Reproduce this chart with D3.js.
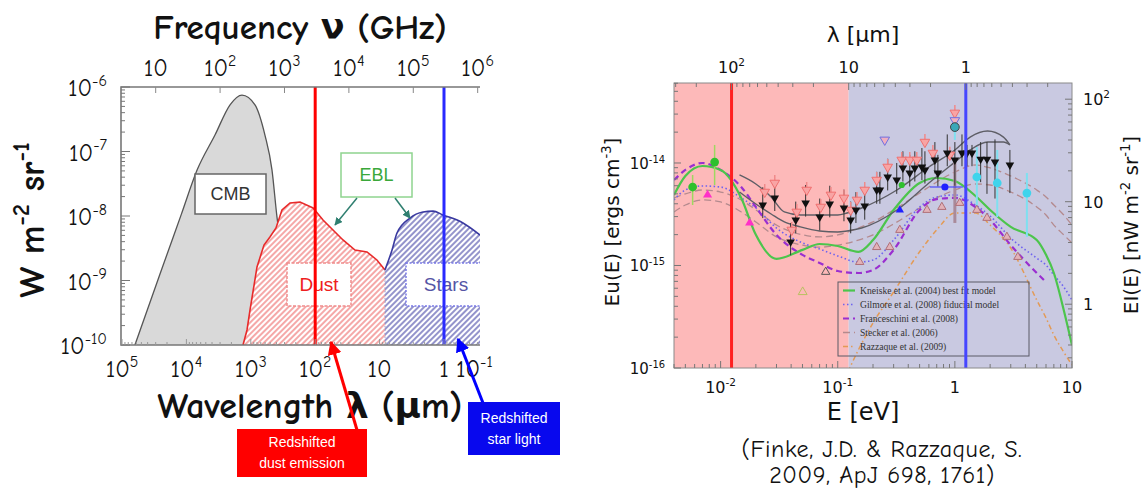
<!DOCTYPE html>
<html>
<head>
<meta charset="utf-8">
<script src="https://cdn.jsdelivr.net/npm/d3@7"></script>
<style>
  body { margin: 0; background: #fff; }
  svg { display: block; }
</style>
</head>
<body>
<svg id="chart" width="1148" height="490"></svg>
<script>
// ---------- left panel: CMB / EBL spectrum, lambda in um, nu I_nu in W m^-2 sr^-1
const cmbLambda = [6.3e4, 2.57e4, 1.2e4, 6.8e3, 3.6e3, 2.1e3, 1.37e3, 861, 603, 469, 392, 316, 246];
const cmbFlux   = [1e-10, 1.26e-9, 1.06e-8, 5.2e-8, 1.8e-7, 5.3e-7, 7.5e-7, 5.3e-7, 1.8e-7, 5.2e-8, 9.6e-9, 2.1e-9, 1e-10];

const dustLambda = [1321, 1145, 1028, 801, 624, 504, 406, 328, 246, 172, 108, 75.6, 37, 24.1, 15.7, 11.0, 8.24];
const dustFlux   = [1e-10, 1.71e-10, 3.49e-10, 1.62e-9, 3.55e-9, 4.72e-9, 6.52e-9, 1.24e-8, 1.59e-8, 1.64e-8, 1.33e-8, 8.67e-9, 4.25e-9, 2.97e-9, 2.77e-9, 2.08e-9, 1.46e-9];

const starLambda = [8.24, 6.41, 5.37, 3.37, 2.12, 1.48, 1.04, 0.507, 0.276];
const starFlux   = [1.46e-9, 2.97e-9, 5.44e-9, 9.3e-9, 1.15e-8, 1.19e-8, 1.04e-8, 7.79e-9, 5.07e-9];

const dustPeakLambda = 100;   // redshifted dust emission
const starPeakLambda = 1;     // redshifted star light

const lambdaTicksL = [1e5, 1e4, 1e3, 1e2, 10, 1, 0.1];
const freqTicksL   = [10, 1e2, 1e3, 1e4, 1e5, 1e6];
const fluxTicksL   = [1e-6, 1e-7, 1e-8, 1e-9, 1e-10];

// ---------- right panel: EBL energy density, E in eV, u in erg cm^-3
const energyGrid = [0.004, 0.005, 0.007, 0.01, 0.015, 0.02, 0.03, 0.05, 0.07, 0.1, 0.15, 0.2, 0.3, 0.5, 0.7, 1, 1.5, 2, 3, 5, 6, 7, 8.5, 10];
const kneiske      = [4.88e-15, 7.47e-15, 9.35e-15, 8.55e-15, 4.56e-15, 1.99e-15, 1.16e-15, 1.42e-15, 1.62e-15, 1.55e-15, 1.36e-15, 1.77e-15, 3.48e-15, 6.38e-15, 7.14e-15, 6.67e-15, 4.76e-15, 3.48e-15, 2.38e-15, 1.77e-15, 1.27e-15, 8.45e-16, 3.68e-16, 1.67e-16];
const gilmore      = [4.36e-15, 5.45e-15, 5.97e-15, 5.83e-15, 4.56e-15, 3.64e-15, 2.32e-15, 1.66e-15, 1.45e-15, 1.24e-15, 1.08e-15, 1.13e-15, 1.77e-15, 3.72e-15, 4.66e-15, 4.88e-15, 3.89e-15, 3.04e-15, 1.85e-15, 1.18e-15, 1.01e-15, 8.07e-16, 6.17e-16, 4.61e-16];
const franceschini = [6.82e-15, 8.55e-15, 1.0e-14, 8.55e-15, 5.83e-15, 3.72e-15, 1.99e-15, 1.27e-15, 1.06e-15, 8.83e-16, 8.45e-16, 9.04e-16, 1.42e-15, 3.48e-15, 4.45e-15, 4.56e-15, 3.72e-15, 2.78e-15, 1.58e-15, 8.45e-16, 6.90e-16, null, null, null];
const steckerHigh  = [4.56e-15, 4.99e-15, 5.45e-15, 5.21e-15, 4.36e-15, 3.48e-15, 2.48e-15, 1.99e-15, 1.90e-15, 1.99e-15, 2.32e-15, 2.66e-15, 3.48e-15, 5.09e-15, 6.53e-15, 8.17e-15, 9.56e-15, 8.94e-15, 7.47e-15, 5.45e-15, 4.66e-15, 3.89e-15, 3.11e-15, 2.48e-15];
const steckerLow   = [3.33e-15, 3.89e-15, 4.36e-15, 4.17e-15, 3.33e-15, 2.66e-15, 1.90e-15, 1.58e-15, 1.51e-15, 1.58e-15, 1.77e-15, 1.99e-15, 2.54e-15, 3.64e-15, 4.56e-15, 5.45e-15, 6.24e-15, 6.10e-15, 5.21e-15, 3.72e-15, 3.11e-15, 2.48e-15, 1.99e-15, 1.66e-15];
const razzaque     = [null, null, null, null, null, null, null, null, null, 5.46e-17, 1.50e-16, 2.75e-16, 5.51e-16, 1.36e-15, 2.22e-15, 3.25e-15, 3.25e-15, 2.48e-15, 1.48e-15, 4.61e-16, 3.08e-16, 2.10e-16, 1.43e-16, 1.07e-16];

// grey solid bounds
const boundE    = [0.0145, 0.02, 0.027, 0.035, 0.048, 0.07, 0.1, 0.12, 0.16, 0.32, 0.6, 1.0, 1.35, 1.9, 2.6, 2.95];
const boundHigh = [7.64e-15, 6.24e-15, 4.66e-15, 3.33e-15, 3.11e-15, 3.11e-15, 3.11e-15, 3.25e-15, 3.64e-15, 5.45e-15, 9.14e-15, 1.34e-14, 1.79e-14, 2.05e-14, 1.79e-14, 1.50e-14];
const boundLow  = [5.21e-15, 3.98e-15, 3.18e-15, 2.66e-15, 2.38e-15, 2.17e-15, 2.12e-15, 2.17e-15, 2.32e-15, 3.48e-15, 6.38e-15, 1.02e-14, 1.34e-14, 1.60e-14, 1.60e-14, 1.50e-14];

// measurements
const blackE  = [0.0229, 0.0290, 0.0396, 0.0438, 0.0532, 0.0702, 0.0855, 0.113, 0.129, 0.143, 0.170, 0.215, 0.229, 0.267, 0.319, 0.360, 0.412, 0.455, 0.523, 0.555, 0.675, 0.716, 0.861, 1.0, 1.15, 1.27, 1.40, 1.66, 1.88, 2.20, 2.95];
const blackU  = [3.89e-15, 4.56e-15, 1.70e-15, 2.78e-15, 4.07e-15, 2.97e-15, 3.98e-15, 3.64e-15, 2.78e-15, 3.48e-15, 3.80e-15, 5.45e-15, 5.45e-15, 7.30e-15, 6.82e-15, 8.94e-15, 7.99e-15, 8.94e-15, 9.14e-15, 8.55e-15, 1.07e-14, 7.99e-15, 1.25e-14, 1.07e-14, 1.25e-14, 1.25e-14, 1.25e-14, 1.09e-14, 1.09e-14, 1.02e-14, 9.56e-15];
const blackHi = [5.8e-15, 6.8e-15, 2.6e-15, 4.2e-15, 6.1e-15, 4.5e-15, 6.0e-15, 5.5e-15, 4.2e-15, 5.2e-15, 5.7e-15, 8.2e-15, 8.2e-15, 1.1e-14, 1.0e-14, 1.3e-14, 1.2e-14, 1.3e-14, 1.4e-14, 1.3e-14, 1.6e-14, 1.2e-14, 1.9e-14, 1.6e-14, 1.9e-14, 1.5e-14, 1.5e-14, 1.6e-14, 1.6e-14, 1.7e-14, 1.34e-14];
const blackLo = [2.9e-15, 3.4e-15, 1.26e-15, 2.06e-15, 3.0e-15, 2.2e-15, 2.95e-15, 2.7e-15, 2.06e-15, 2.6e-15, 2.8e-15, 4.0e-15, 4.0e-15, 5.4e-15, 5.0e-15, 6.6e-15, 5.9e-15, 6.6e-15, 6.8e-15, 6.3e-15, 7.9e-15, 5.9e-15, 9.3e-15, 6.0e-15, 9.3e-15, 9.3e-15, 9.3e-15, 6.5e-15, 5.0e-15, 4.5e-15, 5.09e-15];

const pinkE = [0.0238, 0.0290, 0.0405, 0.0447, 0.0543, 0.0716, 0.0875, 0.113, 0.129, 0.146, 0.170, 0.215, 0.267, 0.352, 0.412, 0.473, 0.555, 0.649, 0.906, 1.0];
const pinkU = [5.21e-15, 6.38e-15, 2.22e-15, 3.33e-15, 5.45e-15, 3.72e-15, 4.88e-15, 4.56e-15, 3.48e-15, 4.36e-15, 5.45e-15, 6.82e-15, 9.14e-15, 1.07e-14, 1.07e-14, 1.07e-14, 1.60e-14, 1.25e-14, 1.20e-14, 3.08e-14];
const lavenderE = [0.252, 1.0];
const lavenderU = [1.68e-14, 2.6e-14];

const cyanE  = [1.54, 2.30, 4.12, 1.0];
const cyanU  = [7.30e-15, 6.38e-15, 5.09e-15, 2.24e-14];
const cyanLo = [3.72e-15, 2.97e-15, 1.90e-15, 1.68e-14];
const cyanHi = [1.43e-14, 1.34e-14, 7.99e-15, 2.9e-14];

const greenE  = [0.00577, 0.00889, 0.352];
const greenU  = [5.83e-15, 1.02e-14, 6.1e-15];
const greenLo = [3.89e-15, 6.10e-15, null];
const greenHi = [7.64e-15, 1.5e-14, null];

const magentaE = [0.00774, 0.0177];
const magentaU = [4.88e-15, 2.60e-15];

const blueDotE = [0.822], blueDotU = [5.83e-15], blueDotEmin = [0.611], blueDotEmax = [1.17];
const blueTriE = [0.339], blueTriU = [3.48e-15];

const rosyE = [0.154, 0.215, 0.278, 0.339, 0.578, 0.774, 1.10, 1.54, 1.88, 2.78, 3.45];
const rosyU = [1.08e-15, 1.51e-15, 1.51e-15, 2.22e-15, 3.48e-15, 3.72e-15, 4.07e-15, 3.48e-15, 2.91e-15, 1.90e-15, 1.21e-15];
const greyTriE = [0.0789], greyTriU = [8.65e-16];
const oliveTriE = [0.0502], oliveTriU = [5.51e-16];
const mauveBarE = [1.0], mauveBarLo = [2.60e-15], mauveBarHi = [1.07e-14];

const legendLabels = [
  'Kneiske et al. (2004) best fit model',
  'Gilmore et al. (2008) fiducial model',
  'Franceschini et al. (2008)',
  'Stecker et al. (2006)',
  'Razzaque et al. (2009)'
];

const energyTicks = [0.01, 0.1, 1, 10];
const lambdaTicksR = [100, 10, 1];
const uTicks = [1e-14, 1e-15, 1e-16];
const nwTicks = [100, 10, 1];

const C_GHZ_UM = 2.998e5;   // nu[GHz] = C / lambda[um]
const HC = 1.2398;          // E[eV] * lambda[um]
const U_TO_NW = 2.386e15;   // c/4pi : erg cm^-3 -> nW m^-2 sr^-1

const COMIC = '"Comic Sans MS", "Comic Neue", "DejaVu Sans", sans-serif';
const SANS = '"Liberation Sans", Arial, sans-serif';

const svg = d3.select('#chart');
const defs = svg.append('defs');

function hatch(id, color) {
  const p = defs.append('pattern').attr('id', id)
    .attr('patternUnits', 'userSpaceOnUse').attr('width', 4).attr('height', 4)
    .attr('patternTransform', 'rotate(45)');
  p.append('rect').attr('width', 4).attr('height', 4).attr('fill', '#fff');
  p.append('line').attr('x1', 1).attr('y1', 0).attr('x2', 1).attr('y2', 4)
    .attr('stroke', color).attr('stroke-width', 1.3);
}
hatch('hatchRed', '#f07a7a');
hatch('hatchBlue', '#5a5ab0');

function arrowMarker(id, color, size) {
  defs.append('marker').attr('id', id).attr('viewBox', '0 0 10 10')
    .attr('refX', 9).attr('refY', 5).attr('markerWidth', size).attr('markerHeight', size)
    .attr('markerUnits', 'userSpaceOnUse').attr('orient', 'auto')
    .append('path').attr('d', 'M0,0 L10,5 L0,10 z').attr('fill', color);
}
arrowMarker('arRed', '#ff0000', 14);
arrowMarker('arBlue', '#0000ff', 14);
arrowMarker('arTeal', '#2f7f70', 8);

// 10^n label
function powText(g, v, x, y, size, anchor, family, weight) {
  const e = Math.round(Math.log10(v));
  const t = g.append('text').attr('x', x).attr('y', y)
    .attr('text-anchor', anchor || 'middle').attr('font-size', size)
    .attr('font-family', family).attr('font-weight', weight || null).attr('fill', '#111');
  if (e === 0) t.text('1');
  else if (e === 1) t.text('10');
  else {
    t.append('tspan').text('10');
    t.append('tspan').attr('dy', -size * 0.42).attr('font-size', size * 0.66).text(e);
  }
  return t;
}

// text with superscript parts: [[str, isSup], ...]
function richText(g, parts, size, attrs) {
  const t = g.append('text').attr('font-size', size);
  Object.entries(attrs).forEach(([k, v]) => t.attr(k, v));
  let up = false;
  const k = size * 0.42;
  parts.forEach(([s, sup]) => {
    const ts = t.append('tspan').text(s);
    if (sup && !up) { ts.attr('dy', -k).attr('font-size', size * 0.66); up = true; }
    else if (sup) ts.attr('font-size', size * 0.66);
    else if (!sup && up) { ts.attr('dy', k); up = false; }
  });
  return t;
}

// ================= LEFT PANEL =================
const L = { left: 121, right: 480, top: 87, bottom: 345 };
const xL = d3.scaleLog().domain([1e5, 0.276]).range([122, L.right]);
const yL = d3.scaleLog().domain([1e-10, 1e-6]).range([L.bottom, L.top]);
const xF = d3.scaleLog().domain([C_GHZ_UM / 1e5, C_GHZ_UM / 0.276]).range([122, L.right]);

const left = svg.append('g');
defs.append('clipPath').attr('id', 'clipL').append('rect')
  .attr('x', L.left).attr('y', L.top).attr('width', L.right - L.left).attr('height', L.bottom - L.top);
const lp = left.append('g').attr('clip-path', 'url(#clipL)');

const cmb = cmbLambda.map((l, i) => [l, cmbFlux[i]]);
const dust = dustLambda.map((l, i) => [l, dustFlux[i]]);
const stars = starLambda.map((l, i) => [l, starFlux[i]]);

const areaL = d3.area().x(d => xL(d[0])).y0(L.bottom).y1(d => yL(d[1])).curve(d3.curveMonotoneX);
const lineL = d3.line().x(d => xL(d[0])).y(d => yL(d[1])).curve(d3.curveMonotoneX);

lp.append('path').datum(cmb).attr('d', areaL).attr('fill', '#d9d9d9');
lp.append('path').datum(cmb).attr('d', lineL).attr('fill', 'none').attr('stroke', '#555').attr('stroke-width', 1.3);

const areaLin = d3.area().x(d => xL(d[0])).y0(L.bottom).y1(d => yL(d[1]));
const lineLin = d3.line().x(d => xL(d[0])).y(d => yL(d[1]));
lp.append('path').datum(dust).attr('d', areaLin).attr('fill', 'url(#hatchRed)');
lp.append('path').datum(stars).attr('d', areaL).attr('fill', 'url(#hatchBlue)');
lp.append('path').datum(dust).attr('d', lineLin).attr('fill', 'none').attr('stroke', '#e82a2a').attr('stroke-width', 1.6);
lp.append('path').datum(stars).attr('d', lineL).attr('fill', 'none').attr('stroke', '#3a3aa0').attr('stroke-width', 1.6);
// dotted boundary between the two components
lp.append('line')
  .attr('x1', xL(starLambda[0])).attr('x2', xL(starLambda[0]))
  .attr('y1', yL(starFlux[0])).attr('y2', L.bottom)
  .attr('stroke', '#9a9ac8').attr('stroke-width', 1).attr('stroke-dasharray', '1.5,2');

// label boxes
function boxLabel(g, x, y, w, h, txt, stroke, color, dash, size) {
  g.append('rect').attr('x', x).attr('y', y).attr('width', w).attr('height', h)
    .attr('fill', '#fff').attr('stroke', stroke).attr('stroke-width', 1.5)
    .attr('stroke-dasharray', dash || null);
  g.append('text').attr('x', x + w / 2).attr('y', y + h / 2 + size * 0.36)
    .attr('text-anchor', 'middle').attr('font-size', size).attr('font-family', SANS)
    .attr('fill', color).text(txt);
}
boxLabel(left, 195, 174, 71, 40, 'CMB', '#666', '#333', null, 18);
boxLabel(left, 341, 153, 71, 44, 'EBL', '#8fd48f', '#3aa83a', null, 18);
boxLabel(lp, 287, 263, 64, 43, 'Dust', '#f08a8a', '#ee2020', '3,1.5', 19);
boxLabel(lp, 406, 263, 80, 43, 'Stars', '#7a7ae8', '#5555a5', '2,1.5', 19);

// EBL arrows
left.append('line').attr('x1', 357).attr('y1', 198).attr('x2', 335).attr('y2', 225)
  .attr('stroke', '#2f7f70').attr('stroke-width', 1.5).attr('marker-end', 'url(#arTeal)');
left.append('line').attr('x1', 395).attr('y1', 198).attr('x2', 410).attr('y2', 218)
  .attr('stroke', '#2f7f70').attr('stroke-width', 1.5).attr('marker-end', 'url(#arTeal)');

// redshifted peaks
left.append('line').attr('x1', xL(dustPeakLambda)).attr('x2', xL(dustPeakLambda))
  .attr('y1', L.top).attr('y2', L.bottom).attr('stroke', '#ff0000').attr('stroke-width', 3);
left.append('line').attr('x1', xL(starPeakLambda)).attr('x2', xL(starPeakLambda))
  .attr('y1', L.top).attr('y2', L.bottom).attr('stroke', '#2a2aff').attr('stroke-width', 3);

// axes frame
left.append('path')
  .attr('d', `M${L.right},${L.top} H${L.left} V${L.bottom} H${L.right}`)
  .attr('fill', 'none').attr('stroke', '#777').attr('stroke-width', 1.6);
yL.ticks().forEach(v => {
  const major = Math.abs(Math.log10(v) - Math.round(Math.log10(v))) < 1e-6;
  left.append('line').attr('x1', L.left).attr('x2', L.left + (major ? 9 : 4))
    .attr('y1', yL(v)).attr('y2', yL(v)).attr('stroke', '#777').attr('stroke-width', 1);
});
xL.ticks().filter(v => xL(v) <= L.right).forEach(v => {
  const major = Math.abs(Math.log10(v) - Math.round(Math.log10(v))) < 1e-6;
  left.append('line').attr('x1', xL(v)).attr('x2', xL(v))
    .attr('y1', L.bottom).attr('y2', L.bottom - (major ? 6 : 3)).attr('stroke', '#999').attr('stroke-width', 1);
});
freqTicksL.forEach(v => {
  left.append('line').attr('x1', xF(v)).attr('x2', xF(v))
    .attr('y1', L.top).attr('y2', L.top + 6).attr('stroke', '#888').attr('stroke-width', 1);
});

// tick labels
fluxTicksL.forEach(v => powText(left, v, 107, yL(v) + 9, 24, 'end', COMIC));
lambdaTicksL.forEach(v => {
  let x = xL(v), anchor = 'middle';
  if (x > L.right - 10) { x = xL(starPeakLambda) + 12; anchor = 'start'; }
  powText(left, v, x, 377, 24, anchor, COMIC);
});
freqTicksL.forEach(v => powText(left, v, xF(v), 76, 24, 'middle', COMIC));

// titles
left.append('text').attr('x', 300).attr('y', 39).attr('text-anchor', 'middle')
  .attr('font-size', 35).attr('font-weight', 'bold').attr('font-family', COMIC).attr('fill', '#111')
  .text('Frequency \u03bd (GHz)');
left.append('text').attr('x', 310).attr('y', 418).attr('text-anchor', 'middle')
  .attr('font-size', 36).attr('font-weight', 'bold').attr('font-family', COMIC).attr('fill', '#111')
  .text('Wavelength \u03bb (\u03bcm)');
richText(left, [['W m', false], ['-2', true], [' sr', false], ['-1', true]], 36, {
  'text-anchor': 'middle', 'font-family': COMIC, 'font-weight': 'bold', fill: '#111',
  transform: 'translate(44,220) rotate(-90)'
});

// callout boxes
left.append('line').attr('x1', 357).attr('y1', 430).attr('x2', 331).attr('y2', 342)
  .attr('stroke', '#ff0000').attr('stroke-width', 3).attr('marker-end', 'url(#arRed)');
left.append('rect').attr('x', 237).attr('y', 429).attr('width', 130).attr('height', 48).attr('fill', '#ff0000');
left.append('text').attr('x', 302).attr('y', 447).attr('text-anchor', 'middle').attr('font-size', 14)
  .attr('font-family', SANS).attr('fill', '#fff').text('Redshifted');
left.append('text').attr('x', 302).attr('y', 468).attr('text-anchor', 'middle').attr('font-size', 14)
  .attr('font-family', SANS).attr('fill', '#fff').text('dust emission');

left.append('line').attr('x1', 483).attr('y1', 403).attr('x2', 458).attr('y2', 339)
  .attr('stroke', '#0000ff').attr('stroke-width', 3).attr('marker-end', 'url(#arBlue)');
left.append('rect').attr('x', 468).attr('y', 402).attr('width', 92).attr('height', 53).attr('fill', '#0808ee');
left.append('text').attr('x', 514).attr('y', 423).attr('text-anchor', 'middle').attr('font-size', 14)
  .attr('font-family', SANS).attr('fill', '#fff').text('Redshifted');
left.append('text').attr('x', 514).attr('y', 444).attr('text-anchor', 'middle').attr('font-size', 14)
  .attr('font-family', SANS).attr('fill', '#fff').text('star light');

// ================= RIGHT PANEL =================
const R = { left: 674, right: 1072, top: 83, bottom: 368 };
const uTop = 6.03e-14;
const xR = d3.scaleLog().domain([0.004, 10]).range([R.left, R.right]);
const yR = d3.scaleLog().domain([1e-16, uTop]).range([R.bottom, R.top]);
const xLam = d3.scaleLog().domain([HC / 0.004, HC / 10]).range([R.left, R.right]);
const yNW = d3.scaleLog().domain([1e-16 * U_TO_NW, uTop * U_TO_NW]).range([R.bottom, R.top]);

const right = svg.append('g');
defs.append('clipPath').attr('id', 'clipR').append('rect')
  .attr('x', R.left).attr('y', R.top).attr('width', R.right - R.left).attr('height', R.bottom - R.top);
const rp = right.append('g').attr('clip-path', 'url(#clipR)');

// dust / stars regions (split at lambda = 10 um)
rp.append('rect').attr('x', R.left).attr('y', R.top)
  .attr('width', xLam(10) - R.left).attr('height', R.bottom - R.top).attr('fill', '#fdb9b9');
rp.append('rect').attr('x', xLam(10)).attr('y', R.top)
  .attr('width', R.right - xLam(10)).attr('height', R.bottom - R.top).attr('fill', '#c9c9e1');

const lineR = d3.line().defined(d => d[1] != null)
  .x(d => xR(d[0])).y(d => yR(d[1])).curve(d3.curveMonotoneX);
const models = [
  { vals: steckerHigh, color: '#b48a8e', w: 1.3, dash: '7,4' },
  { vals: steckerLow, color: '#b48a8e', w: 1.3, dash: '7,4' },
  { vals: razzaque, color: '#e39a55', w: 1.5, dash: '5,3,1.5,3' },
  { vals: gilmore, color: '#6e62f0', w: 1.6, dash: '1.5,2.5' },
  { vals: franceschini, color: '#9a2fd0', w: 2.2, dash: '6,4' },
  { vals: kneiske, color: '#4cc54c', w: 2.2, dash: null }
];
models.forEach(m => {
  rp.append('path').datum(energyGrid.map((e, i) => [e, m.vals[i]])).attr('d', lineR)
    .attr('fill', 'none').attr('stroke', m.color).attr('stroke-width', m.w)
    .attr('stroke-dasharray', m.dash);
});
[boundHigh, boundLow].forEach(vals => {
  rp.append('path').datum(boundE.map((e, i) => [e, vals[i]])).attr('d', lineR)
    .attr('fill', 'none').attr('stroke', '#5e5e66').attr('stroke-width', 1.4);
});

// measurement markers
function vbar(g, e, lo, hi, color, w) {
  g.append('line').attr('x1', xR(e)).attr('x2', xR(e)).attr('y1', yR(lo)).attr('y2', yR(hi))
    .attr('stroke', color).attr('stroke-width', w);
}
function marker(g, e, u, type, size, fill, stroke, rot) {
  g.append('path').attr('d', d3.symbol().type(type).size(size)())
    .attr('transform', `translate(${xR(e)},${yR(u)})${rot ? ' rotate(180)' : ''}`)
    .attr('fill', fill).attr('stroke', stroke || 'none').attr('stroke-width', 1);
}
const mk = rp.append('g');
mauveBarE.forEach((e, i) => vbar(mk, e, mauveBarLo[i], mauveBarHi[i], '#a98a9a', 3));
cyanE.forEach((e, i) => vbar(mk, e, cyanLo[i], cyanHi[i], '#7fe0f0', 2));
greenE.forEach((e, i) => { if (greenLo[i] != null) vbar(mk, e, greenLo[i], greenHi[i], '#9ed860', 1.5); });
blackE.forEach((e, i) => vbar(mk, e, blackLo[i], blackHi[i], '#333', 1));
rosyE.forEach((e, i) => marker(mk, e, rosyU[i], d3.symbolTriangle, 30, '#e2b2b8', '#b07078'));
greyTriE.forEach((e, i) => marker(mk, e, greyTriU[i], d3.symbolTriangle, 30, 'none', '#555'));
oliveTriE.forEach((e, i) => marker(mk, e, oliveTriU[i], d3.symbolTriangle, 34, 'none', '#b9c060'));
pinkE.forEach((e, i) => {
  mk.append('line').attr('x1', xR(e)).attr('x2', xR(e)).attr('y1', yR(pinkU[i]) - 8).attr('y2', yR(pinkU[i]) + 2)
    .attr('stroke', '#f08a8a').attr('stroke-width', 1.5);
  marker(mk, e, pinkU[i], d3.symbolTriangle, 40, '#f8a4a4', '#f07070', true);
});
lavenderE.forEach((e, i) => marker(mk, e, lavenderU[i], d3.symbolTriangle, 40, '#f0b0c0', '#7070e0', true));
blackE.forEach((e, i) => marker(mk, e, blackU[i], d3.symbolTriangle, 32, '#111', null, true));
magentaE.forEach((e, i) => marker(mk, e, magentaU[i], d3.symbolTriangle, 36, '#ff30c8'));
blueTriE.forEach((e, i) => marker(mk, e, blueTriU[i], d3.symbolTriangle, 30, '#2020ff'));
blueDotE.forEach((e, i) => {
  mk.append('line').attr('x1', xR(blueDotEmin[i])).attr('x2', xR(blueDotEmax[i]))
    .attr('y1', yR(blueDotU[i])).attr('y2', yR(blueDotU[i])).attr('stroke', '#3030ff').attr('stroke-width', 1.2);
  marker(mk, e, blueDotU[i], d3.symbolCircle, 40, '#2020ff');
});
cyanE.forEach((e, i) => marker(mk, e, cyanU[i], d3.symbolCircle, 60, i === 3 ? '#3aa8b8' : '#40d4ec', i === 3 ? '#444' : null));
greenE.forEach((e, i) => marker(mk, e, greenU[i], d3.symbolCircle, i === 2 ? 30 : 60, '#2ec02e'));

// redshifted peaks
rp.append('line').attr('x1', xLam(100)).attr('x2', xLam(100)).attr('y1', R.top).attr('y2', R.bottom)
  .attr('stroke', '#ff2020').attr('stroke-width', 3);

// legend
const lg = right.append('g');
const LG = { x: 838, y: 282, w: 191, h: 74 };
lg.append('rect').attr('x', LG.x).attr('y', LG.y).attr('width', LG.w).attr('height', LG.h)
  .attr('fill', 'none').attr('stroke', '#5a5a66').attr('stroke-width', 1);
const legendStyles = [models[5], models[3], models[4], models[0], models[2]];
legendLabels.forEach((txt, i) => {
  const y = LG.y + 8.5 + i * 14;
  const s = legendStyles[i];
  lg.append('line').attr('x1', LG.x + 5).attr('x2', LG.x + 17).attr('y1', y).attr('y2', y)
    .attr('stroke', s.color).attr('stroke-width', s.w).attr('stroke-dasharray', s.dash);
  lg.append('text').attr('x', LG.x + 22).attr('y', y + 3.2).attr('font-size', 9.6)
    .attr('font-family', '"Liberation Serif", "Times New Roman", serif').attr('fill', '#333').text(txt);
});

right.append('line').attr('x1', xLam(1)).attr('x2', xLam(1)).attr('y1', R.top).attr('y2', R.bottom)
  .attr('stroke', '#4646ff').attr('stroke-width', 3);

// frame and ticks
right.append('rect').attr('x', R.left).attr('y', R.top).attr('width', R.right - R.left).attr('height', R.bottom - R.top)
  .attr('fill', 'none').attr('stroke', '#8a8a8a').attr('stroke-width', 1);
const isMajor = v => Math.abs(Math.log10(v) - Math.round(Math.log10(v))) < 1e-6;
const tk = right.append('g').attr('stroke', '#777').attr('stroke-width', 1);
xR.ticks().forEach(v => {
  const len = isMajor(v) ? 7 : 4;
  tk.append('line').attr('x1', xR(v)).attr('x2', xR(v)).attr('y1', R.bottom).attr('y2', R.bottom - len);
});
xLam.ticks().forEach(v => {
  const len = isMajor(v) ? 7 : 4;
  tk.append('line').attr('x1', xLam(v)).attr('x2', xLam(v)).attr('y1', R.top).attr('y2', R.top + len);
});
yR.ticks().forEach(v => {
  const len = isMajor(v) ? 7 : 4;
  tk.append('line').attr('x1', R.left).attr('x2', R.left + len).attr('y1', yR(v)).attr('y2', yR(v));
});
yNW.ticks().forEach(v => {
  const len = isMajor(v) ? 7 : 4;
  tk.append('line').attr('x1', R.right).attr('x2', R.right - len).attr('y1', yNW(v)).attr('y2', yNW(v));
});

const RF = '"DejaVu Sans", sans-serif';
energyTicks.forEach(v => powText(right, v, xR(v), 393, 16, 'middle', RF));
lambdaTicksR.forEach(v => powText(right, v, xLam(v), 73, 16, 'middle', RF));
uTicks.forEach(v => powText(right, v, 665, yR(v) + 6, 15, 'end', RF));
nwTicks.forEach(v => powText(right, v, 1083, yNW(v) + 6, 16, 'start', RF));

right.append('text').attr('x', 863).attr('y', 42).attr('text-anchor', 'middle')
  .attr('font-size', 22).attr('font-family', RF).attr('fill', '#111').text('\u03bb [\u03bcm]');
right.append('text').attr('x', 863).attr('y', 420).attr('text-anchor', 'middle')
  .attr('font-size', 24).attr('font-family', RF).attr('fill', '#111').text('E [eV]');
richText(right, [['Eu(E) [ergs cm', false], ['-3', true], [']', false]], 20, {
  'text-anchor': 'middle', 'font-family': RF, fill: '#111',
  transform: 'translate(619,222) rotate(-90)'
});
richText(right, [['EI(E) [nW m', false], ['-2', true], [' sr', false], ['-1', true], [']', false]], 20, {
  'text-anchor': 'middle', 'font-family': RF, fill: '#111',
  transform: 'translate(1138,225) rotate(-90)'
});

right.append('text').attr('x', 882).attr('y', 457).attr('text-anchor', 'middle')
  .attr('font-size', 24).attr('letter-spacing', 0.6).attr('font-family', COMIC).attr('fill', '#111')
  .text('(Finke, J.D. & Razzaque, S.');
right.append('text').attr('x', 882).attr('y', 483).attr('text-anchor', 'middle')
  .attr('font-size', 24).attr('letter-spacing', 0.6).attr('font-family', COMIC).attr('fill', '#111')
  .text('2009, ApJ 698, 1761)');
</script>
</body>
</html>
